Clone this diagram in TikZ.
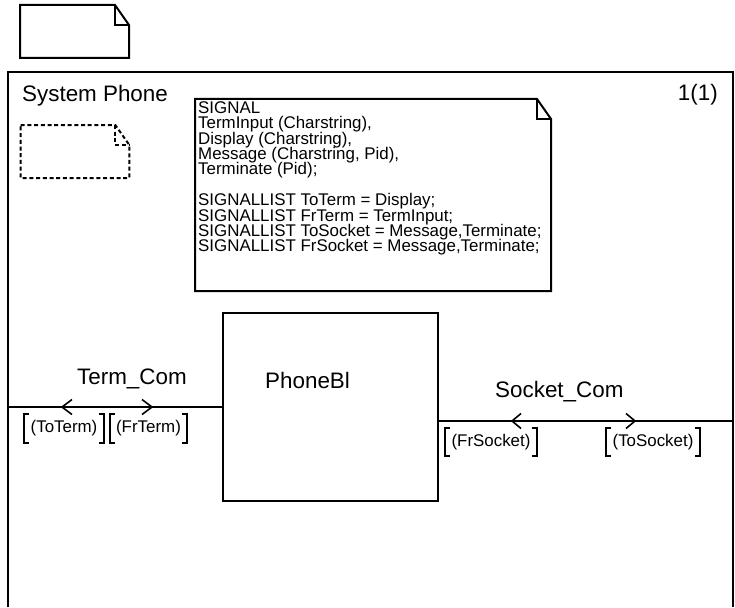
\documentclass[tikz,border=0pt]{standalone}
\usepackage{fontspec}
\setmainfont{Liberation Sans}
\newcommand\declfont{\fontsize{16.9}{15.4}\selectfont\lineskiplimit=-50pt\relax\lineskip=0pt\relax}
\begin{document}
\begin{tikzpicture}[x=1pt,y=-1pt,
  ln/.style={line width=2pt},
  big/.style={font=\fontsize{22.4}{26}\selectfont, inner sep=0pt},
  small/.style={font={\declfont}, inner sep=0pt},
  siglist/.style={small, inner xsep=6pt, inner ysep=0pt, minimum height=28pt},
  brk/.style={line width=2pt},
  oarrow/.style={line width=1.6pt},
  dsh/.style={line width=2pt, dash pattern=on 4pt off 2.7pt},
]
\useasboundingbox (0,0) rectangle (735,607);

% frame
\coordinate (fbl) at (8,607);
\coordinate (ftl) at (8,72);
\coordinate (ftr) at (733,72);
\coordinate (fbr) at (733,607);
\draw[ln] (fbl) -- (ftl) -- (ftr) -- (fbr);

\node (title) [big, anchor=base west] at (22,101.5) {System Phone};
\node (page) [big, anchor=base east] at (718,101) {1(1)};

% top note
\draw[ln] (20,5) -- (115,5) -- (129,25) -- (129,58) -- (20,58) -- cycle;
\draw[ln] (115,5) -- (115,25) -- (129,25);

% dashed note
\draw[dsh] (20.7,125) -- (115.3,125) -- (129.3,145) -- (129.3,178) -- (20.7,178) -- cycle;
\draw[dsh] (115.3,125) -- (115.3,145) -- (129.3,145);

% signal declaration note
\draw[ln] (195,99) -- (537,99) -- (551,119) -- (551,291) -- (195,291) -- cycle;
\draw[ln] (537,99) -- (537,119) -- (551,119);
\node (decl) [small, anchor=north west, align=left] at (198,101.3) {SIGNAL\\
TermInput (Charstring),\\
Display (Charstring),\\
Message (Charstring, Pid),\\
Terminate (Pid);\\[15.4pt]
SIGNALLIST ToTerm = Display;\\
SIGNALLIST FrTerm = TermInput;\\
SIGNALLIST ToSocket = Message,Terminate;\\
SIGNALLIST FrSocket = Message,Terminate;};

% block
\node (pb) [ln, draw, minimum width=215.3pt, minimum height=187.7pt, inner sep=0pt] at (330.35,407) {};
\node (pbl) [big, anchor=base west] at (265,388) {PhoneBl};

% channels
\coordinate (tl) at (8,407);
\coordinate (sr) at (733,421);
\draw[ln] (tl) -- (pb.west);
\draw[ln] (pb.east |- sr) -- (sr);

\node (tc) [big, anchor=base west] at (77,384) {Term\_Com};
\node (sc) [big, anchor=base west] at (495,397) {Socket\_Com};

% channel arrows
\coordinate (a1) at (62,407);
\coordinate (a2) at (152,407);
\coordinate (a3) at (512,421);
\coordinate (a4) at (635,421);
\draw[oarrow] ([shift={(10,-7.5)}]a1) -- (a1) -- ([shift={(10,7.5)}]a1);
\draw[oarrow] ([shift={(-10,-7.5)}]a2) -- (a2) -- ([shift={(-10,7.5)}]a2);
\draw[oarrow] ([shift={(9,-7.5)}]a3) -- (a3) -- ([shift={(9,7.5)}]a3);
\draw[oarrow] ([shift={(-9,-7.5)}]a4) -- (a4) -- ([shift={(-9,7.5)}]a4);

% signal lists
\node (toterm) [siglist] at (64,428.5) {(ToTerm)};
\node (frterm) [siglist] at (148.5,428.5) {(FrTerm)};
\node (frsock) [siglist] at (491,442) {(FrSocket)};
\node (tosock) [siglist] at (653,442) {(ToSocket)};
\foreach \n in {toterm,frterm,frsock,tosock}{
  \draw[brk] ([xshift=5pt]\n.north west) -- (\n.north west) -- (\n.south west) -- ([xshift=5pt]\n.south west);
  \draw[brk] ([xshift=-5pt]\n.north east) -- (\n.north east) -- (\n.south east) -- ([xshift=-5pt]\n.south east);
}
\end{tikzpicture}
\end{document}
